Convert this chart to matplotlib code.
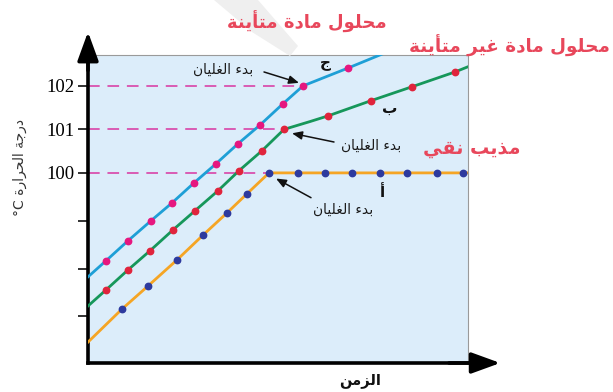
import matplotlib
matplotlib.use("Agg")
import matplotlib.pyplot as plt
from matplotlib.patches import Polygon

# ---------------------------------------------------------------- data
# time axis (arbitrary units) and temperature (°C)
solute_ionic_t = [0.0, 1.8, 4.0, 6.3, 8.4, 10.6, 12.8, 15.0, 17.2, 19.5, 21.5, 26.0, 29.5]
solute_ionic_T = [97.61, 97.98, 98.44, 98.90, 99.31, 99.77, 100.21, 100.67, 101.10, 101.59,
                  102.0, 102.41, 102.74]
solute_ionic_marks = [1, 2, 3, 4, 5, 6, 7, 8, 9, 10, 11]

solute_nonionic_t = [0.0, 1.8, 4.0, 6.2, 8.5, 10.7, 13.0, 15.1, 17.4, 19.6, 22.2, 24.0,
                     28.3, 32.4, 36.7, 38.0]
solute_nonionic_T = [96.94, 97.31, 97.77, 98.21, 98.69, 99.13, 99.59, 100.05, 100.51, 101.0,
                     101.18, 101.31, 101.66, 101.98, 102.32, 102.44]
solute_nonionic_marks = [1, 2, 3, 4, 5, 6, 7, 8, 9, 11, 12, 13, 14]

pure_t = [0.0, 3.4, 6.0, 8.9, 11.5, 13.9, 15.9, 18.1, 21.0, 23.7, 26.4, 29.2, 31.9, 34.9,
          37.5, 38.0]
pure_T = [96.11, 96.87, 97.40, 98.0, 98.57, 99.08, 99.52, 100.0, 100.0, 100.0, 100.0, 100.0,
          100.0, 100.0, 100.0, 100.0]
pure_marks = list(range(1, 15))

boiling_points = [100.0, 101.0, 102.0]
boiling_times = [18.1, 19.6, 21.5]

ytick_values = [96.7, 97.8, 98.9, 100.0, 101.0, 102.0]
ytick_labels = ["", "", "", "100", "101", "102"]

label_start = "بدء الغليان"
label_time = "الزمن"
label_temp = "درجة الحرارة"
label_ionic = "محلول مادة متأينة"
label_nonionic = "محلول مادة غير متأينة"
label_pure = "مذيب نقي"
curve_names = ["أ", "ب", "ج"]

# ------------------------------------------------- simple Arabic shaping
FORMS = {
    '\u0621': ('\uFE80', None, None, None),
    '\u0623': ('\uFE83', '\uFE84', None, None),
    '\u0627': ('\uFE8D', '\uFE8E', None, None),
    '\u0628': ('\uFE8F', '\uFE90', '\uFE91', '\uFE92'),
    '\u0629': ('\uFE93', '\uFE94', None, None),
    '\u062A': ('\uFE95', '\uFE96', '\uFE97', '\uFE98'),
    '\u062C': ('\uFE9D', '\uFE9E', '\uFE9F', '\uFEA0'),
    '\u062D': ('\uFEA1', '\uFEA2', '\uFEA3', '\uFEA4'),
    '\u062F': ('\uFEA9', '\uFEAA', None, None),
    '\u0630': ('\uFEAB', '\uFEAC', None, None),
    '\u0631': ('\uFEAD', '\uFEAE', None, None),
    '\u0632': ('\uFEAF', '\uFEB0', None, None),
    '\u063A': ('\uFECD', '\uFECE', '\uFECF', '\uFED0'),
    '\u0642': ('\uFED5', '\uFED6', '\uFED7', '\uFED8'),
    '\u0644': ('\uFEDD', '\uFEDE', '\uFEDF', '\uFEE0'),
    '\u0645': ('\uFEE1', '\uFEE2', '\uFEE3', '\uFEE4'),
    '\u0646': ('\uFEE5', '\uFEE6', '\uFEE7', '\uFEE8'),
    '\u0648': ('\uFEED', '\uFEEE', None, None),
    '\u064A': ('\uFEF1', '\uFEF2', '\uFEF3', '\uFEF4'),
}
LAM_ALEF = {'\u0627': ('\uFEFB', '\uFEFC'), '\u0623': ('\uFEF7', '\uFEF8')}


def _dual(c):
    return c in FORMS and FORMS[c][2] is not None


def _joins(c):
    return c in FORMS and FORMS[c][1] is not None


def ar(text):
    """Contextual forms + right-to-left order for matplotlib's LTR renderer."""
    out, i, prev_dual = [], 0, False
    while i < len(text):
        c = text[i]
        nxt = text[i + 1] if i + 1 < len(text) else ''
        if c == '\u0644' and nxt in LAM_ALEF:
            out.append(LAM_ALEF[nxt][1 if prev_dual else 0])
            prev_dual = False
            i += 2
            continue
        if c not in FORMS:
            out.append(c)
            prev_dual = False
            i += 1
            continue
        iso, fin, ini, med = FORMS[c]
        cn = _dual(c) and _joins(nxt)
        cp = prev_dual and fin is not None
        out.append(med if (cp and cn) else fin if cp else ini if cn else iso)
        prev_dual = _dual(c)
        i += 1
    return ''.join(reversed(out))


# ---------------------------------------------------------------- figure
W, H = 613, 392
fig = plt.figure(figsize=(W / 100, H / 100), dpi=100)
plt.rcParams['font.family'] = ['DejaVu Sans']

def fx(px):
    return px / W

def fy(py):
    return 1 - py / H

ax = fig.add_axes([fx(88), fy(363), fx(468) - fx(88), fy(55) - fy(363)])
ax.set_facecolor('#dcedfa')
ax.set_xlim(0, 38)
ax.set_ylim(95.63, 102.71)

# faint grey watermark swoosh at the top
fig.patches.append(Polygon([(fx(214), fy(0)), (fx(258), fy(0)), (fx(298), fy(46)),
                            (fx(290), fy(56)), (fx(252), fy(32))],
                           closed=True, transform=fig.transFigure,
                           facecolor='#efefef', edgecolor='none', zorder=0))

# spines
for side in ('top', 'right'):
    ax.spines[side].set_color('#9a9a9a')
    ax.spines[side].set_linewidth(0.8)
for side in ('left', 'bottom'):
    ax.spines[side].set_color('black')
    ax.spines[side].set_linewidth(2.6)

ax.set_xticks([])
ax.set_yticks(ytick_values)
ax.set_yticklabels(ytick_labels, family='Liberation Serif', fontsize=13.5)
ax.tick_params(axis='y', length=7, width=1.3, color='#222222', pad=3)

# axis arrows
arrow_kw = dict(arrowstyle='-|>,head_length=1.1,head_width=0.4', lw=2.6, color='black',
                shrinkA=0, shrinkB=0, mutation_scale=16)
ax.annotate('', xy=(0, 1.075), xytext=(0, 0.95), xycoords='axes fraction',
            arrowprops=arrow_kw, annotation_clip=False)
ax.annotate('', xy=(1.085, 0), xytext=(0.95, 0), xycoords='axes fraction',
            arrowprops=arrow_kw, annotation_clip=False)

# boiling level guides
for T, t in zip(boiling_points, boiling_times):
    ax.plot([0, t], [T, T], color='#d95cb4', lw=1.4, dashes=(6, 4), zorder=2)

# curves
ax.plot(pure_t, pure_T, color='#f5a524', lw=2.0, zorder=3)
ax.plot([pure_t[i] for i in pure_marks], [pure_T[i] for i in pure_marks], 'o',
        color='#2d3a9e', ms=4.6, zorder=4)

ax.plot(solute_nonionic_t, solute_nonionic_T, color='#16975a', lw=2.0, zorder=3)
ax.plot([solute_nonionic_t[i] for i in solute_nonionic_marks],
        [solute_nonionic_T[i] for i in solute_nonionic_marks], 'o',
        color='#e0243c', ms=4.6, zorder=4)

ax.plot(solute_ionic_t, solute_ionic_T, color='#1e9fd6', lw=2.0, zorder=3)
ax.plot([solute_ionic_t[i] for i in solute_ionic_marks],
        [solute_ionic_T[i] for i in solute_ionic_marks], 'o',
        color='#e6177f', ms=4.6, zorder=4)

# "start of boiling" callouts
pointer = dict(arrowstyle='-|>,head_length=0.6,head_width=0.25', lw=1.1, color='#111111',
               shrinkA=0, shrinkB=0, mutation_scale=10)
callouts = [
    ((13.5, 102.37), (17.6, 102.32), (21.1, 102.07)),
    ((28.3, 100.62), (24.6, 100.71), (20.4, 100.91)),
    ((25.5, 99.15), (22.3, 99.43), (18.8, 99.87)),
]
for text_pos, tail, head in callouts:
    ax.text(*text_pos, ar(label_start), fontsize=10, ha='center', va='center',
            color='#1a1a1a', zorder=5)
    ax.annotate('', xy=head, xytext=tail, arrowprops=pointer, zorder=5)

# curve names
for name, pos in zip(curve_names, [(29.5, 99.54), (30.2, 101.49), (23.7, 102.53)]):
    ax.text(*pos, ar(name), fontsize=11, fontweight='bold', ha='center', va='center',
            color='#111111', zorder=5)

# axis titles
fig.text(fx(360), fy(381), ar(label_time), fontsize=10.5, fontweight='bold',
         ha='center', va='center', color='#111111')
fig.text(fx(20), fy(168), '°C ' + ar(label_temp), fontsize=10, rotation=90,
         ha='center', va='center', color='#333333')

# red series captions
red = '#e8475b'
fig.text(fx(307), fy(22), ar(label_ionic), fontsize=13, fontweight='bold',
         ha='center', va='center', color=red)
fig.text(fx(610), fy(46), ar(label_nonionic), fontsize=13.2, fontweight='bold',
         ha='right', va='center', color=red)
fig.text(fx(472), fy(148), ar(label_pure), fontsize=13.8, fontweight='bold',
         ha='center', va='center', color=red)

fig.savefig('out.png', dpi=100)
